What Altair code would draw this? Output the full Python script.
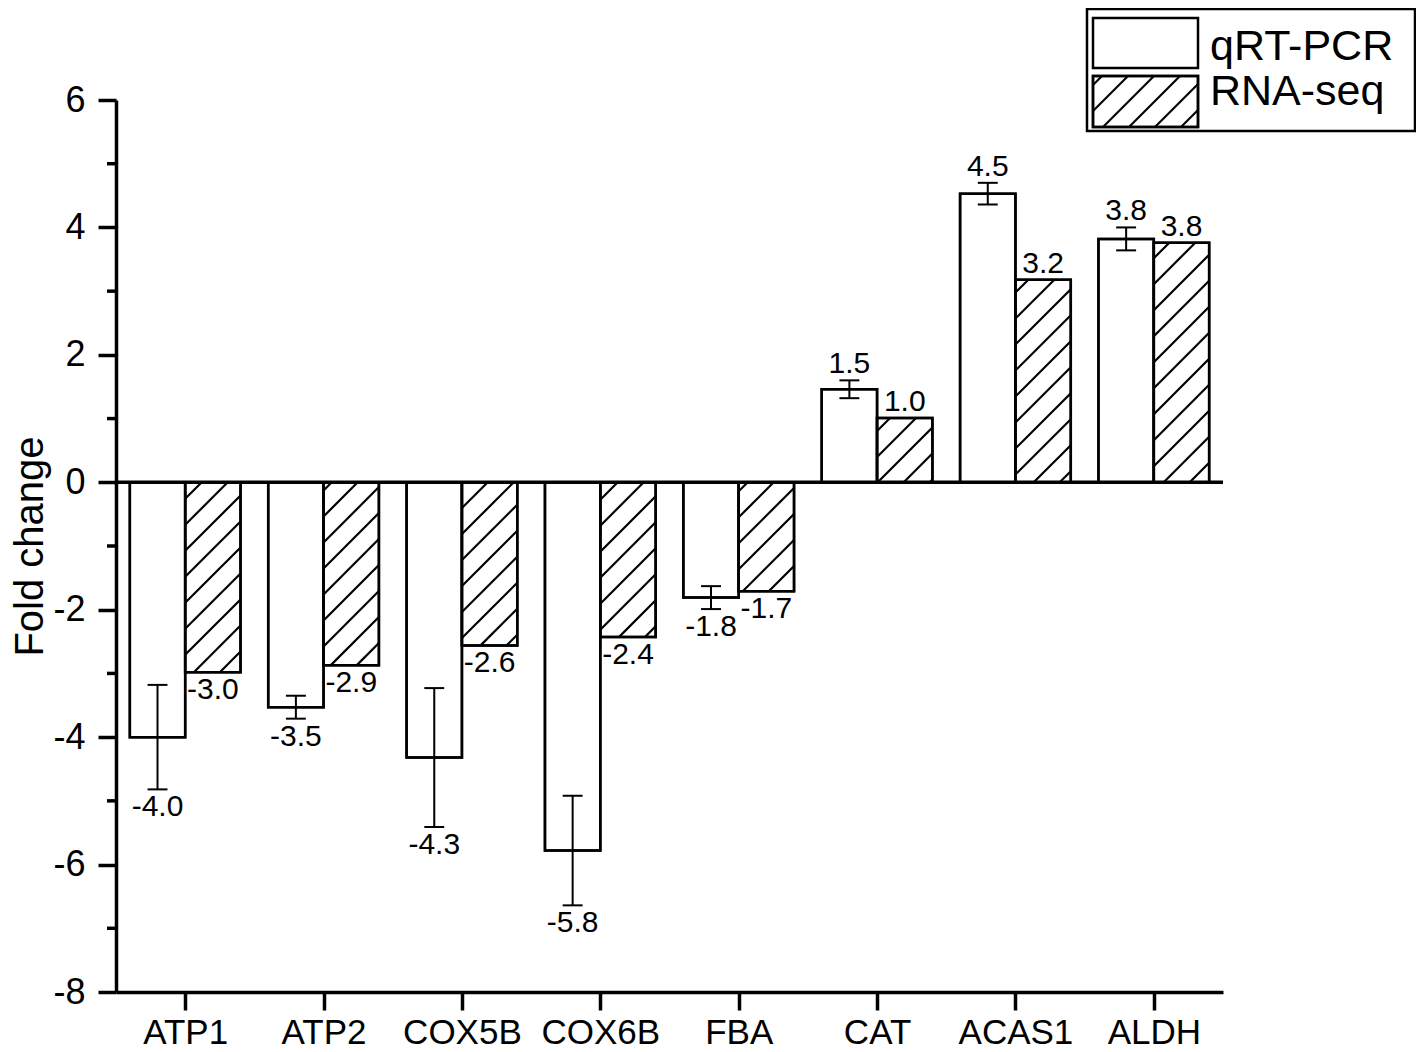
import json
import math
import pandas as pd
import altair as alt

# ---------------- data ----------------
genes = ["ATP1", "ATP2", "COX5B", "COX6B", "FBA", "CAT", "ACAS1", "ALDH"]
qpcr = [-4.00, -3.53, -4.32, -5.78, -1.81, 1.46, 4.53, 3.82]
qpcr_err = [0.82, 0.18, 1.09, 0.86, 0.18, 0.14, 0.17, 0.18]
rnaseq = [-2.98, -2.87, -2.56, -2.43, -1.71, 1.01, 3.18, 3.76]
series = ["qRT-PCR", "RNA-seq"]
y_ticks = [-8, -6, -4, -2, 0, 2, 4, 6]
y_minor = [-7, -5, -3, -1, 1, 3, 5]

# ---------------- layout / style ----------------
W, H = 1107, 892
X_MIN, X_MAX = 0, len(genes)
Y_MIN, Y_MAX = -8, 6
PXU = W / (X_MAX - X_MIN)
PYU = H / (Y_MAX - Y_MIN)
BAR_W = 0.4
CAP_HALF = 0.072
HATCH = 26
FONT = "Liberation Sans"
BLACK = "#000000"


def to_px(xd, yd):
    return xd * PXU, (Y_MAX - yd) * PYU


def to_data(px, py):
    return px / PXU, Y_MAX - py / PYU


def hatch_segments(x0, x1, y0, y1, step):
    """45-degree '/' lines clipped to the pixel rectangle [x0,x1]x[y0,y1]."""
    segs = []
    c = math.ceil((x0 + y0) / step) * step
    while c < x1 + y1:
        ax = max(x0, c - y1)
        ay = c - ax
        bx = min(x1, c - y0)
        by = c - bx
        if bx - ax > 0.5:
            segs.append((ax, ay, bx, by))
        c += step
    return segs


def hatch_points(segs, prefix):
    rows = []
    for k, (ax, ay, bx, by) in enumerate(segs):
        for o, (px, py) in enumerate(((ax, ay), (bx, by))):
            xd, yd = to_data(px, py)
            rows.append(dict(seg=f"{prefix}-{k}", o=o, hx=xd, hy=yd))
    return rows


# bars
bar_rows = []
for i, g in enumerate(genes):
    c = i + 0.5
    bar_rows.append(dict(gene=g, series=series[0], x0=c - BAR_W, x1=c, v=qpcr[i]))
    bar_rows.append(dict(gene=g, series=series[1], x0=c, x1=c + BAR_W, v=rnaseq[i]))
bars = pd.DataFrame(bar_rows)
rna_bars = bars[bars["series"] == series[1]]

# hatch lines for RNA-seq bars
hatch_rows = []
for j, r in enumerate(rna_bars.itertuples()):
    px0, py_a = to_px(r.x0, max(r.v, 0))
    px1, py_b = to_px(r.x1, min(r.v, 0))
    hatch_rows += hatch_points(hatch_segments(px0, px1, py_a, py_b, HATCH), f"b{j}")

# error bars
err = pd.DataFrame(
    dict(
        xc=[i + 0.5 - BAR_W / 2 for i in range(len(genes))],
        lo=[v - e for v, e in zip(qpcr, qpcr_err)],
        hi=[v + e for v, e in zip(qpcr, qpcr_err)],
    )
)
err["cx0"] = err["xc"] - CAP_HALF
err["cx1"] = err["xc"] + CAP_HALF

# value labels
lab_rows = []
for i in range(len(genes)):
    v, e = qpcr[i], qpcr_err[i]
    lab_rows.append(dict(lx=i + 0.5 - BAR_W / 2, ly=(v + e) if v > 0 else (v - e),
                         txt=f"{v:.1f}", pos=v > 0))
    v = rnaseq[i]
    lab_rows.append(dict(lx=i + 0.5 + BAR_W / 2, ly=v, txt=f"{v:.1f}", pos=v > 0))
labels = pd.DataFrame(lab_rows)

# legend geometry (pixels relative to the plot area)
LEG_BOX = (971, 1299, -91, 31)
LEG_SYM1 = (977, 1082, -82, -32)
LEG_SYM2 = (977, 1082, -24, 27)
hatch_rows += hatch_points(hatch_segments(*LEG_SYM2, HATCH), "leg")
hatch = pd.DataFrame(hatch_rows)

# ---------------- scales / axes ----------------
xs = alt.Scale(domain=[X_MIN, X_MAX], nice=False, zero=False)
ys = alt.Scale(domain=[Y_MIN, Y_MAX], nice=False, zero=False)

x_axis = alt.Axis(
    values=[i + 0.5 for i in range(len(genes))],
    labelExpr=json.dumps(genes) + "[floor(datum.value)]",
    title=None, grid=False, tickSize=18, tickWidth=3.5, domainWidth=3.5,
    tickColor=BLACK, domainColor=BLACK, labelColor=BLACK,
    labelFont=FONT, labelFontSize=35, labelPadding=5,
    labelFlush=False, labelOverlap=False, labelAngle=0,
)
y_axis = alt.Axis(
    values=y_ticks, labelExpr="datum.value + ''",
    title="Fold change", titleFont=FONT, titleFontSize=40, titleFontWeight="normal",
    titleColor=BLACK, titlePadding=2,
    grid=False, tickSize=18, tickWidth=3.5, domainWidth=3.5,
    tickColor=BLACK, domainColor=BLACK, labelColor=BLACK,
    labelFont=FONT, labelFontSize=36, labelPadding=13, labelFlush=False,
)


def X(f):
    return alt.X(f, scale=xs, axis=x_axis)


def Y(f):
    return alt.Y(f, scale=ys, axis=y_axis)


one = alt.Data(values=[{}])

bars_fill = alt.Chart(bars).mark_rect(fill="white", stroke=BLACK, strokeWidth=2.5).encode(
    x=X("x0:Q"), x2="x1:Q", y=Y("v:Q"), y2=alt.datum(0),
)

hatch_layer = alt.Chart(hatch).mark_line(color=BLACK, strokeWidth=2.2, strokeCap="butt").encode(
    x=X("hx:Q"), y=Y("hy:Q"), detail="seg:N", order="o:Q",
)

bars_outline = alt.Chart(bars).mark_rect(fillOpacity=0, stroke=BLACK, strokeWidth=2.5).encode(
    x=X("x0:Q"), x2="x1:Q", y=Y("v:Q"), y2=alt.datum(0),
)

err_v = alt.Chart(err).mark_rule(color=BLACK, strokeWidth=2).encode(
    x=X("xc:Q"), y=Y("lo:Q"), y2="hi:Q",
)
err_lo = alt.Chart(err).mark_rule(color=BLACK, strokeWidth=2).encode(
    x=X("cx0:Q"), x2="cx1:Q", y=Y("lo:Q"),
)
err_hi = alt.Chart(err).mark_rule(color=BLACK, strokeWidth=2).encode(
    x=X("cx0:Q"), x2="cx1:Q", y=Y("hi:Q"),
)

zero_df = pd.DataFrame(dict(zx0=[X_MIN], zx1=[X_MAX], zy=[0]))
zero_line = alt.Chart(zero_df).mark_rule(color=BLACK, strokeWidth=3.5).encode(
    x=X("zx0:Q"), x2="zx1:Q", y=Y("zy:Q"),
)

minor = alt.Chart(pd.DataFrame(dict(m=y_minor))).mark_rule(color=BLACK, strokeWidth=3.5).encode(
    y=Y("m:Q"), x=alt.value(-9), x2=alt.value(0),
)

lab_pos = alt.Chart(labels).transform_filter("datum.pos").mark_text(
    font=FONT, fontSize=30, color=BLACK, align="center", baseline="alphabetic", dy=-7
).encode(x=X("lx:Q"), y=Y("ly:Q"), text="txt:N")
lab_neg = alt.Chart(labels).transform_filter("!datum.pos").mark_text(
    font=FONT, fontSize=30, color=BLACK, align="center", baseline="top", dy=3
).encode(x=X("lx:Q"), y=Y("ly:Q"), text="txt:N")


# legend
def leg_rect(box, **kw):
    return alt.Chart(one).mark_rect(stroke=BLACK, strokeWidth=2.5, **kw).encode(
        x=alt.value(box[0]), x2=alt.value(box[1]), y=alt.value(box[2]), y2=alt.value(box[3])
    )


leg_box = leg_rect(LEG_BOX, fill="white")
leg_s1 = leg_rect(LEG_SYM1, fill="white")
leg_s2 = leg_rect(LEG_SYM2, fill="white")
leg_s2_out = leg_rect(LEG_SYM2, fillOpacity=0)
leg_t1 = alt.Chart(one).mark_text(
    font=FONT, fontSize=43, color=BLACK, align="left", baseline="alphabetic"
).encode(x=alt.value(1094), y=alt.value(-40), text=alt.value(series[0]))
leg_t2 = alt.Chart(one).mark_text(
    font=FONT, fontSize=43, color=BLACK, align="left", baseline="alphabetic"
).encode(x=alt.value(1094), y=alt.value(5), text=alt.value(series[1]))

chart = alt.layer(
    leg_box, leg_s1, leg_s2,
    bars_fill, hatch_layer, bars_outline, err_v, err_lo, err_hi, zero_line, minor,
    lab_pos, lab_neg, leg_s2_out, leg_t1, leg_t2,
).properties(
    width=W, height=H,
    autosize=alt.AutoSizeParams(type="none"),
    padding={"left": 108, "top": 92, "right": 193, "bottom": 60},
    background="white",
).configure_view(stroke="transparent")

chart.save("out.html", embed_options={"renderer": "svg", "actions": False})
